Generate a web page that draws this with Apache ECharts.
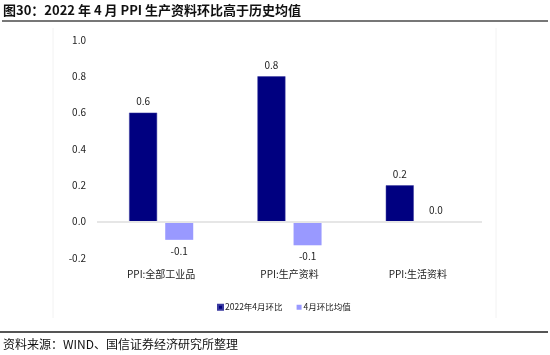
<!DOCTYPE html>
<html><head><meta charset="utf-8">
<script src="https://cdn.jsdelivr.net/npm/echarts@6/dist/echarts.min.js"></script>
<style>html,body{margin:0;padding:0;background:#fff}#c{width:550px;height:355px}</style>
</head><body><div id="c"></div>
<script>
var categories = ['PPI:全部工业品', 'PPI:生产资料', 'PPI:生活资料'];
var series1Name = '2022年4月环比';
var series2Name = '4月环比均值';
var series1 = [0.6, 0.8, 0.2];
var series2 = [-0.1, -0.13, 0.0];
var yTicks = [-0.2, 0.0, 0.2, 0.4, 0.6, 0.8, 1.0];

var FONT = '"Noto Sans CJK SC", "Noto Sans", sans-serif';
function fmt(v) { var r = Math.round(v * 10) / 10; if (r === 0) r = 0; return r.toFixed(1); }
function withLabels(arr) {
  return arr.map(function (v) {
    return {value: v, label: {position: v < 0 ? 'bottom' : 'top', distance: 6}};
  });
}
var chart = echarts.init(document.getElementById('c'));
chart.setOption({
  animation: false,
  textStyle: {fontFamily: FONT},
  graphic: [
    {type: 'text', left: 3, top: 4, style: {text: '图30：2022 年 4 月 PPI 生产资料环比高于历史均值', font: 'bold 13px ' + FONT, fill: '#111'}},
    {type: 'line', shape: {x1: 2, y1: 21, x2: 548, y2: 21}, style: {stroke: '#777', lineWidth: 2}},
    {type: 'line', shape: {x1: 53, y1: 28, x2: 53, y2: 318}, style: {stroke: '#f2f2f2', lineWidth: 1}},
    {type: 'line', shape: {x1: 496, y1: 28, x2: 496, y2: 318}, style: {stroke: '#f2f2f2', lineWidth: 1}},
    {type: 'line', shape: {x1: 0, y1: 332, x2: 548, y2: 332}, style: {stroke: '#555', lineWidth: 2}},
    {type: 'text', left: 3, top: 338, style: {text: '资料来源：WIND、国信证券经济研究所整理', font: '12px ' + FONT, fill: '#111'}}
  ],
  legend: {
    top: 298, left: 212,
    itemWidth: 5, itemHeight: 5, itemGap: 14,
    icon: 'rect',
    textStyle: {fontSize: 8.5, color: '#222', padding: [0, 0, 0, -3]},
    data: [series1Name, series2Name]
  },
  grid: {left: 97, right: 68, top: 40, bottom: 97},
  xAxis: {
    type: 'category', data: categories,
    axisLine: {show: false}, axisTick: {show: false},
    axisLabel: {fontSize: 10, color: '#222', margin: 11, interval: 0}
  },
  yAxis: {
    type: 'value', min: -0.2, max: 1.0, interval: 0.2,
    splitLine: {show: false},
    axisLine: {show: false}, axisTick: {show: false},
    axisLabel: {fontSize: 10, color: '#222', margin: 11, formatter: function (v) { return v.toFixed(1); }}
  },
  series: [
    {name: series1Name, type: 'bar', data: withLabels(series1), barWidth: 28, barGap: '29%',
     itemStyle: {color: '#000080', borderColor: '#3a3aa0', borderWidth: 0.5},
     label: {show: true, fontSize: 10, color: '#222', formatter: function (p) { return fmt(p.value); }},
     markLine: {silent: true, symbol: 'none', label: {show: false}, lineStyle: {color: '#e6e6e6', width: 2, type: 'solid'}, data: [{yAxis: 0}]}
    },
    {name: series2Name, type: 'bar', data: withLabels(series2), barWidth: 28,
     itemStyle: {color: '#9999ff'},
     label: {show: true, fontSize: 10, color: '#222', formatter: function (p) { return fmt(p.value); }}
    }
  ]
});
</script></body></html>
